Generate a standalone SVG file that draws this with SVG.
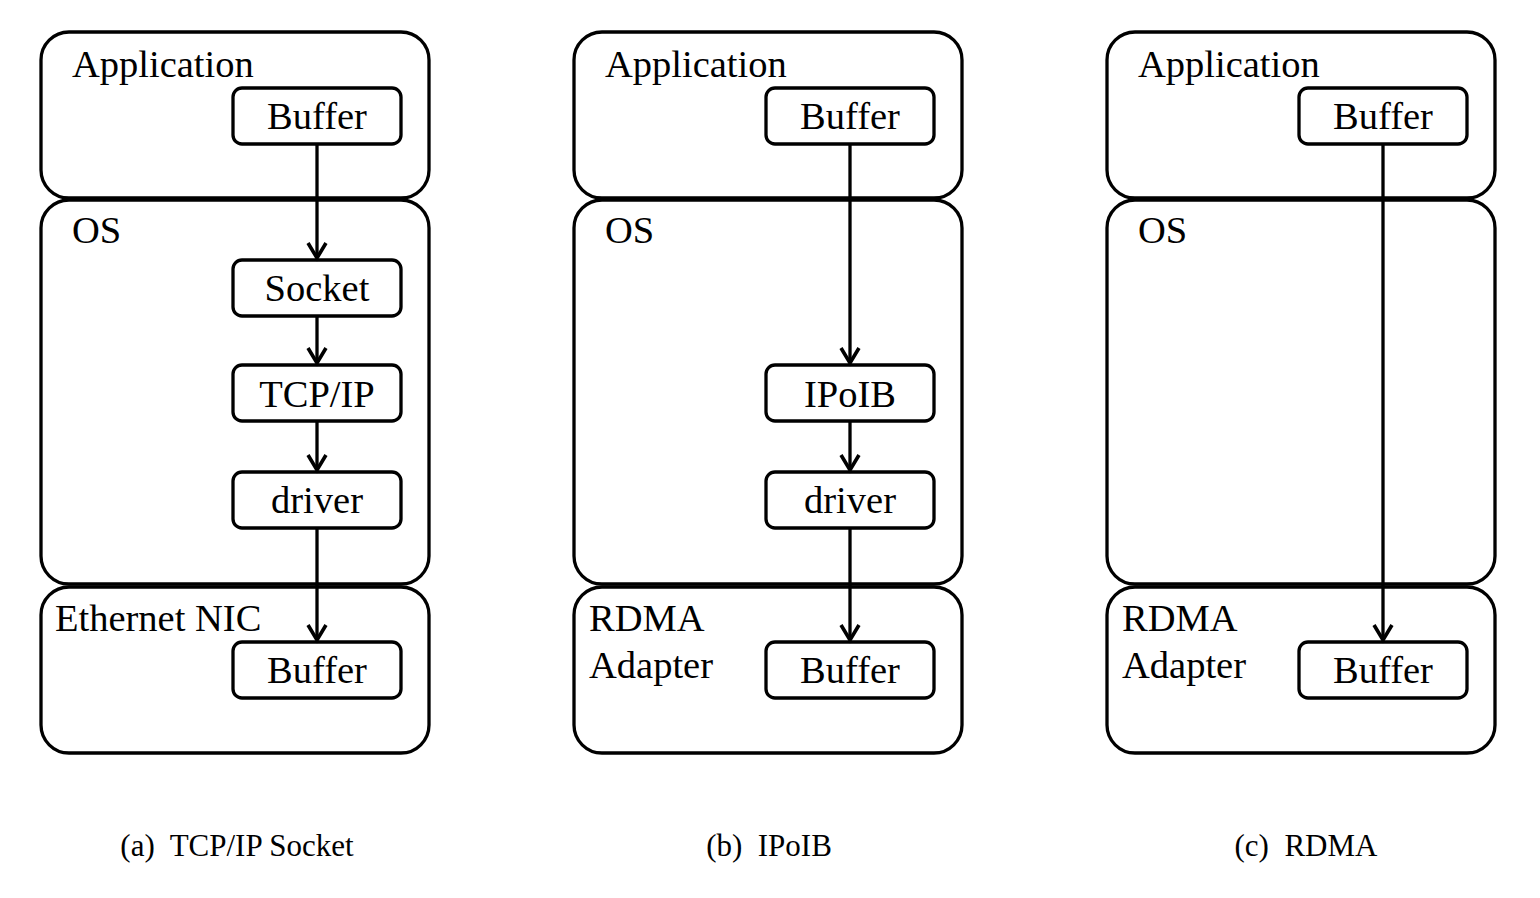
<svg xmlns="http://www.w3.org/2000/svg" width="1540" height="898" viewBox="0 0 1540 898">
<style>
.layer{fill:none;stroke:#000;stroke-width:3.3}
.box{fill:#fff;stroke:#000;stroke-width:3.3}
.t{font-family:"Liberation Serif","Times New Roman",serif;font-size:38.5px;fill:#000}
.c{text-anchor:middle}
.cap{font-family:"Liberation Serif","Times New Roman",serif;font-size:31px;fill:#000;text-anchor:middle}
.con{fill:none;stroke:#000;stroke-width:3.3}
</style>
<defs>
<marker id="ah" markerUnits="userSpaceOnUse" markerWidth="40" markerHeight="40" viewBox="-20 -20 40 40" refX="0" refY="0" orient="auto" overflow="visible">
<path d="M-15,-9 L0,0 L-15,9" fill="none" stroke="#000" stroke-width="3.6" stroke-linejoin="miter"/>
</marker>
</defs>
<rect width="1540" height="898" fill="#fff"/>

<!-- Panel (a) -->
<g id="a-application"><rect class="layer" x="41" y="32" width="388" height="166" rx="28"/><text class="t" x="72" y="77">Application</text></g>
<g id="a-os"><rect class="layer" x="41" y="200" width="388" height="384" rx="28"/><text class="t" x="72" y="243">OS</text></g>
<g id="a-nic"><rect class="layer" x="41" y="587" width="388" height="166" rx="28"/><text class="t" x="55" y="631">Ethernet NIC</text></g>
<g id="a-buffer1"><rect class="box" x="233" y="88" width="168" height="56" rx="9"/><text class="t c" x="317" y="129">Buffer</text></g>
<g id="a-socket"><rect class="box" x="233" y="260" width="168" height="56" rx="9"/><text class="t c" x="317" y="301">Socket</text></g>
<g id="a-tcpip"><rect class="box" x="233" y="365" width="168" height="56" rx="9"/><text class="t c" x="317" y="407">TCP/IP</text></g>
<g id="a-driver"><rect class="box" x="233" y="472" width="168" height="56" rx="9"/><text class="t c" x="317" y="513">driver</text></g>
<g id="a-buffer2"><rect class="box" x="233" y="642" width="168" height="56" rx="9"/><text class="t c" x="317" y="683">Buffer</text></g>

<!-- Panel (b) -->
<g id="b-application"><rect class="layer" x="574" y="32" width="388" height="166" rx="28"/><text class="t" x="605" y="77">Application</text></g>
<g id="b-os"><rect class="layer" x="574" y="200" width="388" height="384" rx="28"/><text class="t" x="605" y="243">OS</text></g>
<g id="b-adapter"><rect class="layer" x="574" y="587" width="388" height="166" rx="28"/><text class="t" x="589" y="631">RDMA</text><text class="t" x="589" y="678">Adapter</text></g>
<g id="b-buffer1"><rect class="box" x="766" y="88" width="168" height="56" rx="9"/><text class="t c" x="850" y="129">Buffer</text></g>
<g id="b-ipoib"><rect class="box" x="766" y="365" width="168" height="56" rx="9"/><text class="t c" x="850" y="407">IPoIB</text></g>
<g id="b-driver"><rect class="box" x="766" y="472" width="168" height="56" rx="9"/><text class="t c" x="850" y="513">driver</text></g>
<g id="b-buffer2"><rect class="box" x="766" y="642" width="168" height="56" rx="9"/><text class="t c" x="850" y="683">Buffer</text></g>

<!-- Panel (c) -->
<g id="c-application"><rect class="layer" x="1107" y="32" width="388" height="166" rx="28"/><text class="t" x="1138" y="77">Application</text></g>
<g id="c-os"><rect class="layer" x="1107" y="200" width="388" height="384" rx="28"/><text class="t" x="1138" y="243">OS</text></g>
<g id="c-adapter"><rect class="layer" x="1107" y="587" width="388" height="166" rx="28"/><text class="t" x="1122" y="631">RDMA</text><text class="t" x="1122" y="678">Adapter</text></g>
<g id="c-buffer1"><rect class="box" x="1299" y="88" width="168" height="56" rx="9"/><text class="t c" x="1383" y="129">Buffer</text></g>
<g id="c-buffer2"><rect class="box" x="1299" y="642" width="168" height="56" rx="9"/><text class="t c" x="1383" y="683">Buffer</text></g>

<g id="connectors">
<path class="con" d="M317,144 L317,258" marker-end="url(#ah)"/>
<path class="con" d="M317,316 L317,363" marker-end="url(#ah)"/>
<path class="con" d="M317,421 L317,470" marker-end="url(#ah)"/>
<path class="con" d="M317,528 L317,640" marker-end="url(#ah)"/>
<path class="con" d="M850,144 L850,363" marker-end="url(#ah)"/>
<path class="con" d="M850,421 L850,470" marker-end="url(#ah)"/>
<path class="con" d="M850,528 L850,640" marker-end="url(#ah)"/>
<path class="con" d="M1383,144 L1383,640" marker-end="url(#ah)"/>
</g>

<g id="captions">
<text class="cap" x="237" y="856" xml:space="preserve">(a)  TCP/IP Socket</text>
<text class="cap" x="769" y="856" xml:space="preserve">(b)  IPoIB</text>
<text class="cap" x="1306" y="856" xml:space="preserve">(c)  RDMA</text>
</g>
</svg>
